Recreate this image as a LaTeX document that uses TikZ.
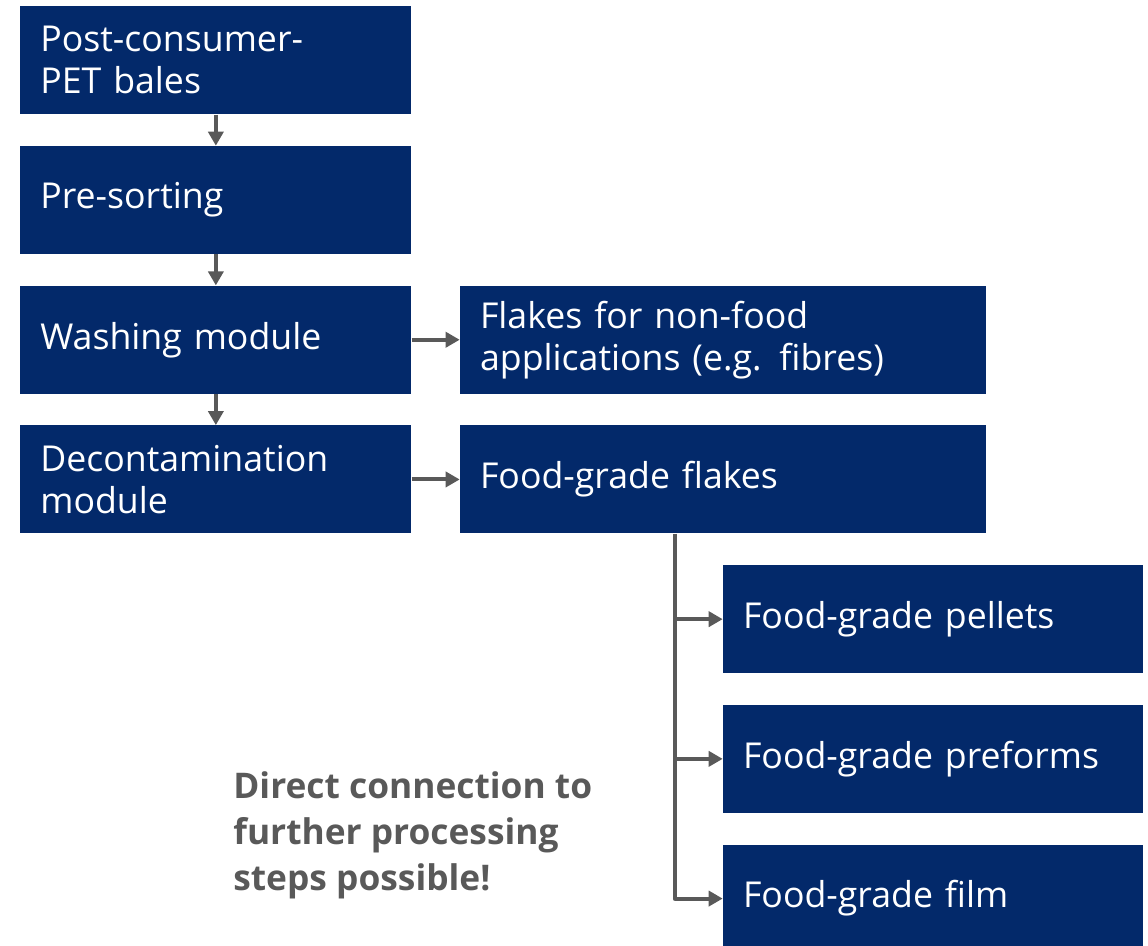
\documentclass[tikz,border=0pt]{standalone}
\usepackage{fontspec}
\setmainfont{Open Sans}
\usetikzlibrary{positioning, calc, arrows.meta}
\definecolor{boxblue}{HTML}{03296A}
\definecolor{linkgray}{HTML}{595959}
\tikzset{
	>={Triangle[length=0.28cm, width=0.3cm]}, % punta de flecha
	node distance=0.62cm, % espacio entre cajas
	stepbox/.style={fill=boxblue, text=white, align=left, inner xsep=0.4cm, inner ysep=0pt,
		minimum height=2.16cm, font=\fontsize{20.3}{23.9}\selectfont},
	leftbox/.style={stepbox, minimum width=7.82cm, text width=7.02cm},
	widebox/.style={stepbox, minimum width=10.52cm, text width=9.72cm},
	endbox/.style={stepbox, minimum width=8.4cm, text width=7.6cm},
	link/.style={->, draw=linkgray, line width=0.08cm, line join=round}
}

\begin{document}
\begin{tikzpicture}
	\useasboundingbox (0,0) rectangle (22.96cm,-18.92cm);
	\node[leftbox, anchor=north west] (bales) at (0.4cm,-0.12cm) {Post-consumer-\\PET bales};
	\node[leftbox, below=of bales] (sorting) {Pre-sorting};
	\node[leftbox, below=of sorting] (washing) {Washing module};
	\node[leftbox, below=of washing] (decont) {Decontamination\\module};
	\node[widebox, right=0.96cm of washing] (nonfood) {Flakes for non-food\\applications (e.g. fibres)};
	\node[widebox, right=0.96cm of decont] (flakes) {Food-grade flakes};
	\coordinate (trunk) at ($(flakes.south west)+(4.3cm,0)$);
	\node[endbox, below right=0.62cm and 0.96cm of trunk] (pellets) {Food-grade pellets};
	\node[endbox, below=of pellets] (preforms) {Food-grade preforms};
	\node[endbox, below=of preforms] (film) {Food-grade film};
	\node[anchor=north west, inner sep=0pt, align=left, text=linkgray,
		font=\bfseries\fontsize{20.1}{26.2}\selectfont] (note) at (4.66cm,-15.42cm)
		{Direct connection to\\further processing\\steps possible!};
	\draw[link] (bales) -- (sorting);
	\draw[link] (sorting) -- (washing);
	\draw[link] (washing) -- (decont);
	\draw[link] (washing) -- (nonfood);
	\draw[link] (decont) -- (flakes);
	\draw[link] (trunk) |- (pellets.west);
	\draw[link] (trunk) |- (preforms.west);
	\draw[link] (trunk) |- (film.west);
\end{tikzpicture}
\end{document}
